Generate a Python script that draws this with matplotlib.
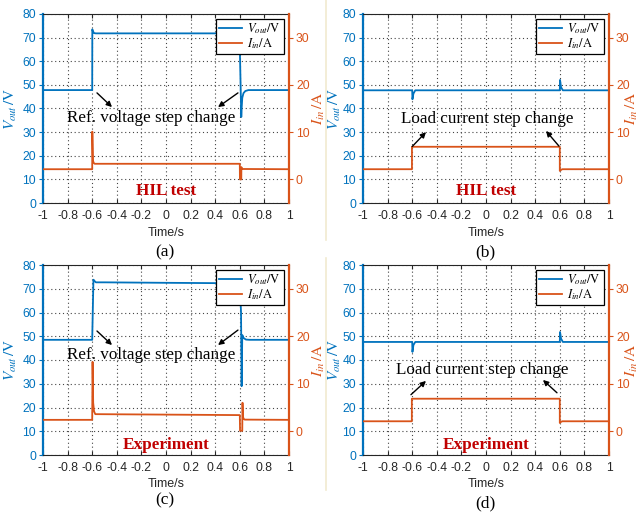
import matplotlib
matplotlib.use('Agg')
import matplotlib.pyplot as plt
from matplotlib.lines import Line2D

plt.rcParams['font.family'] = ['Liberation Sans', 'DejaVu Sans']
plt.rcParams['mathtext.fontset'] = 'stix'

BLUE = '#0072BD'
ORANGE = '#D95319'
DARKRED = '#C00000'

# ---------------- data ----------------
x_ticks = [-1, -0.8, -0.6, -0.4, -0.2, 0, 0.2, 0.4, 0.6, 0.8, 1]
x_ticklabels = ['-1', '-0.8', '-0.6', '-0.4', '-0.2', '0', '0.2', '0.4', '0.6', '0.8', '1']
v_ticks = [0, 10, 20, 30, 40, 50, 60, 70, 80]
i_ticks = [0, 10, 20, 30]

# (a) HIL, reference voltage step
t_vout_a = [-1, -0.6, -0.599, -0.595, -0.585, -0.57, 0.595, 0.6, 0.612, 0.615, 0.62, 0.63, 0.645, 0.67, 1]
vout_a = [47.8, 47.8, 73.5, 72.8, 71.9, 71.8, 71.8, 66, 36.4, 40, 44.5, 46.5, 47.4, 47.8, 47.8]
t_iin_a = [-1, -0.6, -0.599, -0.594, -0.588, -0.58, 0.6, 0.601, 0.612, 0.613, 0.618, 1]
iin_a = [2.15, 2.15, 10.1, 4.0, 3.5, 3.3, 3.3, 0.0, 0.0, 2.6, 2.2, 2.15]

# (b) HIL, load current step
t_vout_b = [-1, -0.6, -0.598, -0.59, -0.575, 0.6, 0.602, 0.61, 0.625, 1]
vout_b = [47.7, 47.7, 43.9, 46.3, 47.7, 47.7, 52.1, 49, 47.7, 47.7]
t_iin_b = [-1, -0.602, -0.602, 0.6, 0.6, 0.605, 0.62, 1]
iin_b = [2.15, 2.15, 6.9, 6.9, 1.8, 1.9, 2.15, 2.15]

# (c) Experiment, reference voltage step
t_vout_c = [-1, -0.6, -0.59, -0.58, -0.57, -0.5, 0.0, 0.6, 0.61, 0.615, 0.62, 0.625, 0.632, 0.65, 0.68, 1]
vout_c = [48.5, 48.5, 73.8, 73.2, 72.7, 72.7, 72.5, 72.3, 60, 29, 50.5, 50, 49.2, 48.6, 48.5, 48.5]
t_iin_c = [-1, -0.6, -0.597, -0.592, -0.585, -0.575, 0.6, 0.602, 0.62, 0.622, 0.626, 0.632, 0.64, 1]
iin_c = [2.4, 2.4, 14.6, 6.0, 4.2, 3.6, 3.4, 0.1, 0.1, 6.0, 3.0, 2.6, 2.45, 2.4]

# (d) Experiment, load current step
t_vout_d = [-1, -0.6, -0.598, -0.59, -0.575, 0.6, 0.602, 0.61, 0.625, 1]
vout_d = [47.6, 47.6, 43.4, 46.3, 47.6, 47.6, 51.8, 49, 47.6, 47.6]
t_iin_d = [-1, -0.603, -0.603, 0.6, 0.6, 0.605, 0.62, 1]
iin_d = [2.1, 2.1, 6.85, 6.85, 1.75, 1.9, 2.1, 2.1]

# arrows given as (tail, head)
panels = [
    dict(pos=(43, 14, 289, 203), tv=t_vout_a, v=vout_a, ti=t_iin_a, i=iin_a,
         note='Ref. voltage step change', note_xy=(-0.12, 36),
         arrows=[((-0.561, 46.6), (-0.439, 40.6)), ((0.585, 46.6), (0.423, 40.6))],
         tag='HIL test', tag_y=5.1, cap='(a)', cap_y=252, xl_y=233, rlab=1.088, llab=-0.098),
    dict(pos=(363, 14, 609, 203), tv=t_vout_b, v=vout_b, ti=t_iin_b, i=iin_b,
         note='Load current step change', note_xy=(0.01, 35.6),
         arrows=[((-0.60, 23.9), (-0.488, 30.0)), ((0.593, 24.1), (0.488, 30.5))],
         tag='HIL test', tag_y=5.1, cap='(b)', cap_y=252, xl_y=233, rlab=1.061, llab=-0.080),
    dict(pos=(43, 265, 289, 455), tv=t_vout_c, v=vout_c, ti=t_iin_c, i=iin_c,
         note='Ref. voltage step change', note_xy=(-0.12, 42.2),
         arrows=[((-0.561, 52.2), (-0.439, 46.3)), ((0.585, 52.6), (0.423, 46.3))],
         tag='Experiment', tag_y=4.2, cap='(c)', cap_y=500, xl_y=484, rlab=1.088, llab=-0.098),
    dict(pos=(363, 265, 609, 455), tv=t_vout_d, v=vout_d, ti=t_iin_d, i=iin_d,
         note='Load current step change', note_xy=(-0.03, 35.9),
         arrows=[((-0.61, 25.4), (-0.488, 31.2)), ((0.577, 26.2), (0.463, 31.6))],
         tag='Experiment', tag_y=4.2, cap='(d)', cap_y=503, xl_y=484, rlab=1.061, llab=-0.080),
]

W, H = 640, 516
fig = plt.figure(figsize=(6.4, 5.16), dpi=100)

# faint separator line from the stitched figure
fig.add_artist(Line2D([326 / W, 326 / W], [1 - 240 / H, 1.0], color='#f1ead0', lw=1.2))
fig.add_artist(Line2D([326 / W, 326 / W], [1 - 490 / H, 1 - 258 / H], color='#f1ead0', lw=1.2))

SERIF = ['Liberation Serif', 'DejaVu Serif']

for p in panels:
    x0, y0, x1, y1 = p['pos']
    ax = fig.add_axes([x0 / W, 1 - y1 / H, (x1 - x0) / W, (y1 - y0) / H])
    ax2 = ax.twinx()

    l1, = ax.plot(p['tv'], p['v'], color=BLUE, lw=1.3)
    l2, = ax2.plot(p['ti'], p['i'], color=ORANGE, lw=1.3)

    ax.set_xlim(-1, 1)
    ax.set_ylim(0, 80)
    ax2.set_ylim(-5, 35)
    ax.set_xticks(x_ticks)
    ax.set_xticklabels(x_ticklabels)
    ax.set_yticks(v_ticks)
    ax2.set_yticks(i_ticks)

    ax.grid(True, linestyle=(0, (1, 2.5)), color='#444444', lw=0.8)
    ax.set_axisbelow(True)

    for s in ['top', 'bottom']:
        ax.spines[s].set_color('#262626')
        ax2.spines[s].set_visible(False)
    ax.spines['left'].set_color(BLUE)
    ax.spines['left'].set_linewidth(1.6)
    ax.spines['right'].set_visible(False)
    ax2.spines['left'].set_visible(False)
    ax2.spines['right'].set_color(ORANGE)
    ax2.spines['right'].set_linewidth(1.6)

    ax.tick_params(axis='x', direction='in', top=True, length=3, labelsize=8.7,
                   colors='#262626', labelcolor='#262626', pad=5)
    ax.tick_params(axis='y', direction='out', length=3, colors=BLUE, labelsize=8.7, pad=2)
    ax2.tick_params(axis='y', direction='out', length=3, colors=ORANGE, labelsize=8.7, pad=2)

    ax.set_ylabel(r'$V_{out}\,/\mathrm{V}$', color=BLUE, fontsize=11)
    ax.yaxis.set_label_coords(p['llab'], 0.5)
    ax2.set_ylabel(r'$I_{in}\,/\mathrm{A}$', color=ORANGE, fontsize=11)
    ax2.yaxis.set_label_coords(p['rlab'], 0.5)

    ax.set_xlabel('Time/s', fontsize=9, color='#262626')
    ax.xaxis.set_label_coords(0.5, -(p['xl_y'] - y1) / (y1 - y0))
    ax.xaxis.label.set_va('center')

    # annotation text and arrows
    ax2.text(p['note_xy'][0], p['note_xy'][1], p['note'], transform=ax.transData,
             ha='center', va='center', fontsize=12.3, family=SERIF, color='black', zorder=5)
    for tail, head in p['arrows']:
        ax2.annotate('', xy=head, xytext=tail, xycoords=ax.transData, textcoords=ax.transData,
                     arrowprops=dict(arrowstyle='-|>', color='black', lw=1.0,
                                     mutation_scale=8, shrinkA=0, shrinkB=0), zorder=5)
    ax2.text(0.0, p['tag_y'], p['tag'], transform=ax.transData, ha='center', va='center',
             fontsize=12.3, family=SERIF, weight='bold', color=DARKRED, zorder=5)

    leg = ax2.legend([l1, l2], [r'$V_{out}/\mathrm{V}$', r'$I_{in}/\mathrm{A}$'],
                     loc='upper right', bbox_to_anchor=(0.978, 0.975), borderaxespad=0,
                     fancybox=False, framealpha=1, edgecolor='black', fontsize=9,
                     handlelength=1.9, handletextpad=0.4, borderpad=0.2, labelspacing=0.05)
    leg.get_frame().set_linewidth(0.9)
    for t in leg.get_texts():
        t.set_family(SERIF)

    fig.text(((x0 + x1) / 2 - 1) / W, 1 - p['cap_y'] / H, p['cap'], ha='center', va='center',
             fontsize=12.5, family=SERIF)

fig.savefig('out.png', dpi=100)
